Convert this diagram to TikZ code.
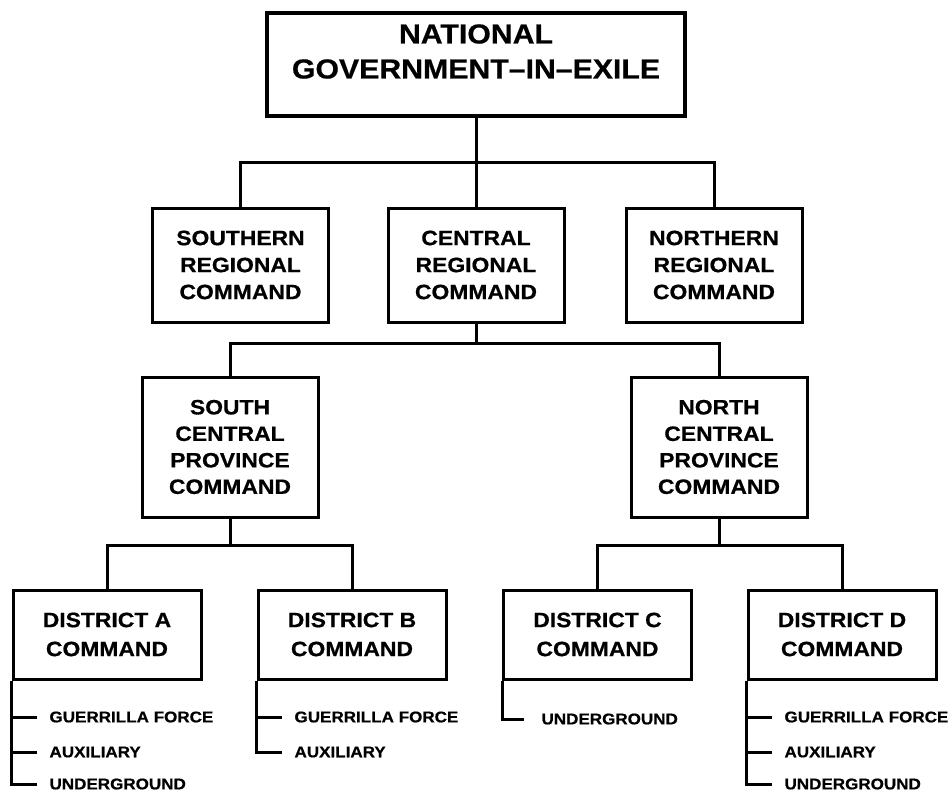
\documentclass[tikz,border=0pt]{standalone}
\usepackage{fontspec}
\newfontfamily\hv{Liberation Sans}[FakeStretch=1.1,Ligatures=TeX,BoldFeatures={FakeBold=0.6}]
\begin{document}
\begin{tikzpicture}[x=1pt,y=-1pt,line width=3pt,
  basebox/.style={draw,line width=3pt,inner sep=0pt,align=center,
    font=\hv\bfseries\fontsize{20.8}{27}\selectfont},
  govbox/.style={draw,line width=4.5pt,inner sep=0pt,minimum width=418pt,minimum height=103pt},
  govtext/.style={inner sep=0pt,align=center,font=\hv\bfseries\fontsize{27.5}{35}\selectfont},
  regbox/.style={basebox,minimum width=176pt,minimum height=114pt},
  provbox/.style={basebox,minimum width=176pt,minimum height=140pt,
    font=\hv\bfseries\fontsize{20.8}{26.5}\selectfont},
  distbox/.style={basebox,minimum width=188pt,minimum height=89pt,
    font=\hv\bfseries\fontsize{20.8}{29}\selectfont},
  itemtext/.style={anchor=west,inner sep=0pt,font=\hv\bfseries\fontsize{15.5}{18}\selectfont}
]
\useasboundingbox (0,0) rectangle (950,796);

% top
\node[govbox] (gov) at (476,64.5) {};
\node[govtext] (govt) at (476,51.5) {NATIONAL\\GOVERNMENT–IN–EXILE};

% regional
\node[regbox] (sreg) at (240.5,265) {SOUTHERN\\REGIONAL\\COMMAND};
\node[regbox] (creg) at (476,265) {CENTRAL\\REGIONAL\\COMMAND};
\node[regbox] (nreg) at (714,265) {NORTHERN\\REGIONAL\\COMMAND};

% province
\node[provbox] (scp) at (230,447) {SOUTH\\CENTRAL\\PROVINCE\\COMMAND};
\node[provbox] (ncp) at (719,447) {NORTH\\CENTRAL\\PROVINCE\\COMMAND};

% districts
\node[distbox] (dA) at (107,634.5) {DISTRICT A\\COMMAND};
\node[distbox] (dB) at (352,634.5) {DISTRICT B\\COMMAND};
\node[distbox] (dC) at (597.5,634.5) {DISTRICT C\\COMMAND};
\node[distbox] (dD) at (842,634.5) {DISTRICT D\\COMMAND};

% bus coordinates
\coordinate (regbus) at (476,162);
\coordinate (provbus) at (476,343);
\coordinate (sbus) at (230,545);
\coordinate (nbus) at (719,545);

% connectors
\draw (gov.south) -- (creg.north);
\draw (sreg.north) |- (regbus) -| (nreg.north);
\draw (creg.south) -- (provbus);
\draw (scp.north) |- (provbus) -| (ncp.north);
\draw (scp.south) -- (sbus);
\draw (dA.north) |- (sbus) -| (dB.north);
\draw (ncp.south) -- (nbus);
\draw (dC.north) |- (nbus) -| (dD.north);

% items A
\node[itemtext] (a1) at (48,717) {GUERRILLA FORCE};
\node[itemtext] (a2) at (48,752) {AUXILIARY};
\node[itemtext] (a3) at (48,784) {UNDERGROUND};
\draw (dA.south west) |- ([xshift=-11pt]a3.west);
\draw (dA.south west |- a1.west) -- ([xshift=-11pt]a1.west);
\draw (dA.south west |- a2.west) -- ([xshift=-11pt]a2.west);

% items B
\node[itemtext] (b1) at (293,717) {GUERRILLA FORCE};
\node[itemtext] (b2) at (293,752) {AUXILIARY};
\draw (dB.south west) |- ([xshift=-11pt]b2.west);
\draw (dB.south west |- b1.west) -- ([xshift=-11pt]b1.west);

% items C
\node[itemtext] (c1) at (540,719) {UNDERGROUND};
\draw (dC.south west) |- ([xshift=-16pt]c1.west);

% items D
\node[itemtext] (d1) at (783,717) {GUERRILLA FORCE};
\node[itemtext] (d2) at (783,752) {AUXILIARY};
\node[itemtext] (d3) at (783,784) {UNDERGROUND};
\draw (dD.south west) |- ([xshift=-11pt]d3.west);
\draw (dD.south west |- d1.west) -- ([xshift=-11pt]d1.west);
\draw (dD.south west |- d2.west) -- ([xshift=-11pt]d2.west);
\end{tikzpicture}
\end{document}
